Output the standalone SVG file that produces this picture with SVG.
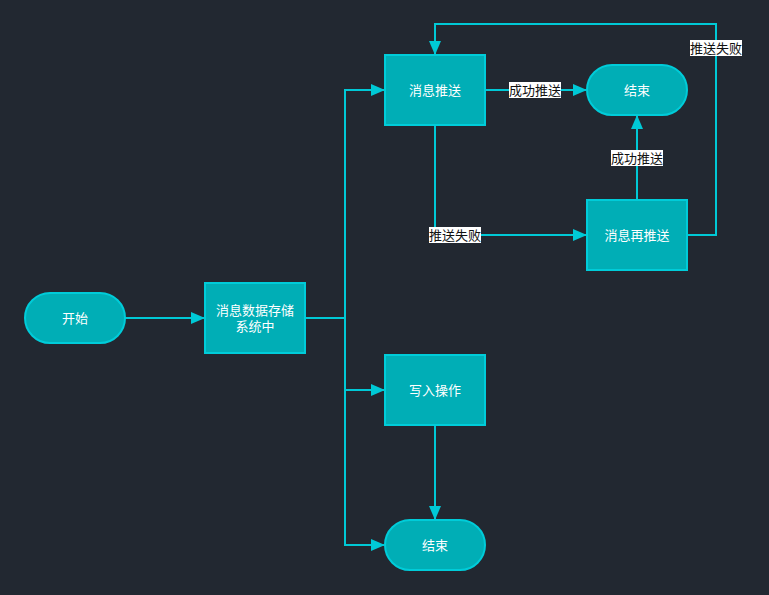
<svg xmlns="http://www.w3.org/2000/svg" width="769" height="595" viewBox="0 0 769 595">
<style>
.n{fill:#00aeb6;stroke:#00ccd9;stroke-width:2}
.t{fill:#ffffff;font-family:"Liberation Sans","Noto Sans CJK SC",sans-serif;font-size:13px;text-anchor:middle;dominant-baseline:central}
.e{fill:none;stroke:#00c9d6;stroke-width:2}
.lb{fill:#ffffff}
.lt{fill:#111111;font-family:"Liberation Sans","Noto Sans CJK SC",sans-serif;font-size:13px;text-anchor:middle;dominant-baseline:central}
</style>
<defs>
<marker id="a" viewBox="0 0 14 12" refX="13" refY="6" markerWidth="14" markerHeight="12" markerUnits="userSpaceOnUse" orient="auto">
<path d="M0,0 L14,6 L0,12 z" fill="#00c9d6"/>
</marker>
</defs>
<rect width="769" height="595" fill="#222831"/>
<g id="connectors">
<path class="e" d="M125,318 H204" marker-end="url(#a)"/>
<path class="e" d="M305,318 H345 V90 H384" marker-end="url(#a)"/>
<path class="e" d="M345,318 V390 H384" marker-end="url(#a)"/>
<path class="e" d="M345,390 V545 H384" marker-end="url(#a)"/>
<path class="e" d="M485,90 H586" marker-end="url(#a)"/>
<path class="e" d="M435,125 V235 H586" marker-end="url(#a)"/>
<path class="e" d="M637,200 V116" marker-end="url(#a)"/>
<path class="e" d="M687,235 H716 V24 H435 V54" marker-end="url(#a)"/>
<path class="e" d="M435,425 V519" marker-end="url(#a)"/>
<g id="labels">
<rect class="lb" x="509" y="82" width="52" height="16"/><text class="lt" x="535" y="90">成功推送</text>
<rect class="lb" x="429" y="227" width="52" height="16"/><text class="lt" x="455" y="235">推送失败</text>
<rect class="lb" x="611" y="150" width="52" height="16"/><text class="lt" x="637" y="158">成功推送</text>
<rect class="lb" x="690" y="40" width="52" height="16"/><text class="lt" x="716" y="48">推送失败</text>
</g>
</g>
<g id="start"><rect class="n" x="25" y="293" width="100" height="50" rx="25"/><text class="t" x="75" y="318">开始</text></g>
<g id="store"><rect class="n" x="205" y="283" width="100" height="70"/><text class="t" x="255" y="310">消息数据存储</text><text class="t" x="255" y="326">系统中</text></g>
<g id="push"><rect class="n" x="385" y="55" width="100" height="70"/><text class="t" x="435" y="90">消息推送</text></g>
<g id="end1"><rect class="n" x="587" y="65" width="100" height="50" rx="25"/><text class="t" x="637" y="90">结束</text></g>
<g id="repush"><rect class="n" x="587" y="200" width="100" height="70"/><text class="t" x="637" y="235">消息再推送</text></g>
<g id="write"><rect class="n" x="385" y="355" width="100" height="70"/><text class="t" x="435" y="390">写入操作</text></g>
<g id="end2"><rect class="n" x="385" y="520" width="100" height="50" rx="25"/><text class="t" x="435" y="545">结束</text></g>
</svg>
